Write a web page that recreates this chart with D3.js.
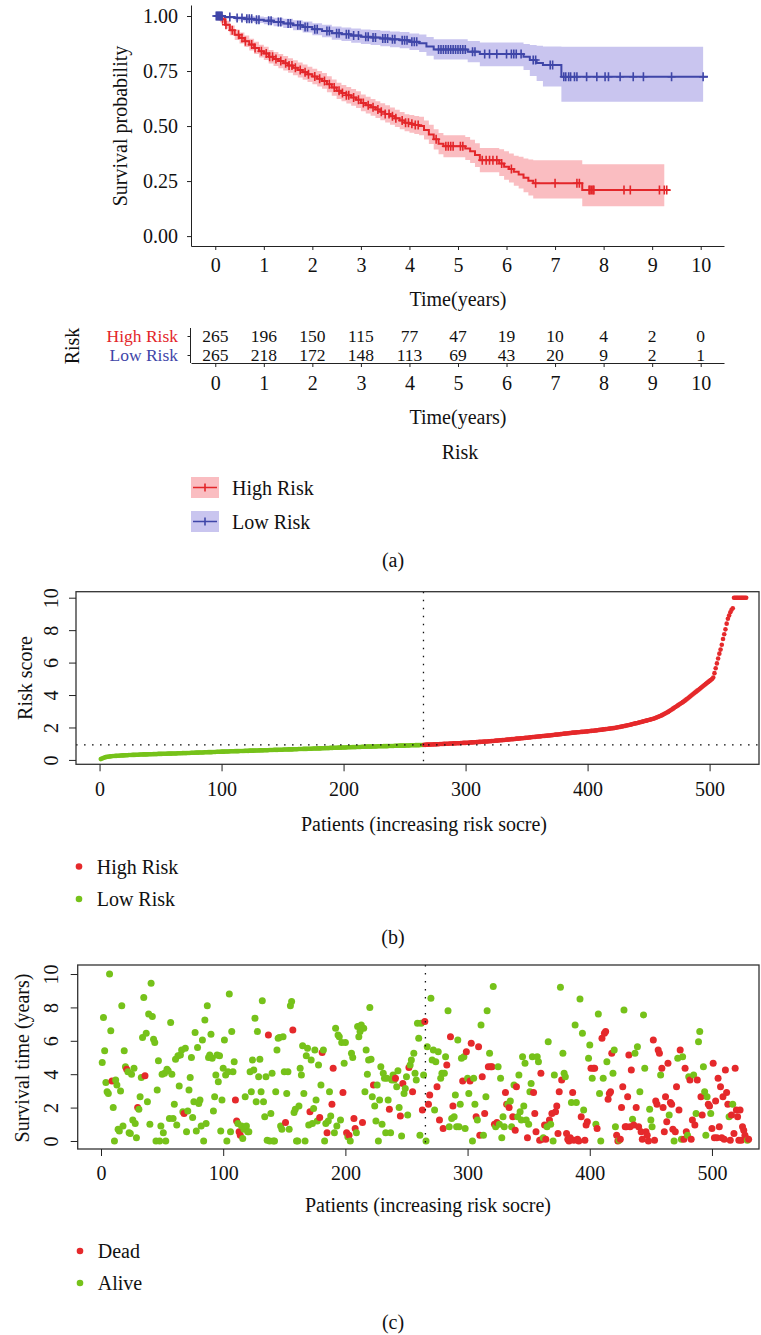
<!DOCTYPE html>
<html>
<head>
<meta charset="utf-8">
<title>Risk model</title>
<script src="https://cdnjs.cloudflare.com/ajax/libs/d3/7.8.5/d3.min.js"></script>
<style>
 body { margin: 0; background: #fff; }
 svg { display: block; font-family: "Liberation Serif", "Times New Roman", serif; }
</style>
</head>
<body>
<script>
// ---------- data ----------
const years = [0, 1, 2, 3, 4, 5, 6, 7, 8, 9, 10];
const groups = ["High Risk", "Low Risk"];
const atRiskHigh = [265, 196, 150, 115, 77, 47, 19, 10, 4, 2, 0];
const atRiskLow = [265, 218, 172, 148, 113, 69, 43, 20, 9, 2, 1];

// Kaplan-Meier steps, high risk group
const highTime = [0,0.05,0.1,0.2,0.3,0.4,0.5,0.6,0.7,0.8,0.9,1.0,1.1,1.2,1.3,1.4,1.5,1.6,1.7,1.8,1.9,2.0,2.1,2.2,2.3,2.4,2.5,2.6,2.7,2.8,2.9,3.0,3.1,3.2,3.3,3.4,3.5,3.6,3.7,3.8,3.9,4.0,4.1,4.2,4.3,4.4,4.5,4.6,4.7,5.15,5.25,5.35,5.45,5.85,5.95,6.05,6.15,6.25,6.35,6.45,6.55,7.56];
const highSurv = [1,.99,.985,.96,.935,.915,.90,.885,.87,.855,.84,.83,.815,.805,.795,.785,.775,.765,.755,.745,.735,.725,.715,.705,.69,.675,.66,.65,.64,.63,.62,.605,.595,.585,.575,.565,.555,.545,.535,.525,.515,.51,.505,.50,.482,.462,.44,.42,.408,.398,.385,.368,.345,.33,.315,.305,.292,.28,.265,.252,.24,.209];
const highLower = [1,.98,.972,.942,.913,.891,.875,.859,.843,.827,.811,.80,.784,.773,.763,.752,.742,.731,.721,.71,.70,.69,.68,.669,.654,.638,.623,.613,.603,.592,.582,.567,.557,.547,.537,.526,.516,.506,.496,.486,.476,.47,.464,.458,.439,.418,.394,.372,.358,.346,.332,.314,.29,.273,.256,.244,.229,.216,.199,.184,.171,.136];
const highUpper = [1,1,.998,.978,.957,.939,.925,.911,.897,.883,.869,.86,.846,.837,.827,.818,.808,.799,.789,.78,.77,.76,.75,.741,.726,.712,.697,.687,.677,.668,.658,.643,.633,.623,.613,.604,.594,.584,.574,.564,.554,.55,.546,.542,.525,.506,.486,.468,.458,.45,.438,.422,.40,.395,.385,.375,.365,.36,.352,.348,.345,.326];
const highEnd = 9.37, highBandEnd = 9.25;
const highCensor = [0.15,0.22,0.35,0.48,0.55,0.62,0.75,0.82,0.95,1.05,1.12,1.18,1.25,1.35,1.45,1.52,1.58,1.65,1.75,1.85,1.92,2.05,2.15,2.25,2.35,2.45,2.55,2.62,2.7,2.75,2.85,2.95,3.05,3.15,3.25,3.35,3.42,3.5,3.58,3.65,3.72,3.85,3.92,3.98,4.05,4.12,4.18,4.55,4.75,4.8,4.85,4.9,5.05,5.1,5.5,5.58,5.65,5.72,5.8,5.9,6.1,6.6,7.0,7.45,7.5,7.7,7.72,7.75,7.78,7.8,8.42,8.55,9.15,9.25,9.3];

// Kaplan-Meier steps, low risk group
const lowTime = [0,0.2,0.4,0.6,0.8,1.0,1.2,1.4,1.6,1.8,2.0,2.2,2.4,2.6,2.8,3.0,3.2,3.4,3.6,3.8,4.0,4.2,4.35,4.5,5.2,5.45,6.35,6.48,6.62,6.75,7.13];
const lowSurv = [1,.996,.991,.987,.983,.979,.973,.966,.958,.95,.94,.932,.922,.917,.911,.906,.902,.898,.894,.89,.883,.876,.862,.848,.838,.827,.815,.80,.787,.777,.724];
const lowLower = [1,.988,.98,.974,.968,.962,.954,.945,.935,.925,.913,.904,.892,.886,.879,.873,.868,.863,.858,.853,.845,.836,.819,.802,.79,.772,.755,.727,.705,.68,.61];
const lowUpper = [1,1,1,1,.998,.996,.992,.987,.981,.975,.967,.96,.952,.948,.943,.939,.936,.933,.93,.927,.921,.916,.905,.894,.886,.88,.873,.868,.865,.862,.86];
const lowEnd = 10.15, lowBandEnd = 10.05;
const lowCensor = [0.02,0.04,0.06,0.08,0.1,0.12,0.14,0.3,0.45,0.55,0.65,0.7,0.75,0.85,0.9,1.1,1.15,1.3,1.35,1.5,1.55,1.7,1.75,1.85,1.9,2.05,2.1,2.3,2.35,2.5,2.55,2.7,2.75,2.85,2.95,3.1,3.15,3.25,3.3,3.45,3.5,3.55,3.65,3.7,3.85,3.9,3.95,4.05,4.1,4.15,4.6,4.65,4.7,4.75,4.8,4.85,4.9,4.95,5.0,5.05,5.1,5.15,5.3,5.35,5.55,5.65,5.8,6.0,6.1,6.15,6.2,6.3,6.55,6.6,6.9,6.95,7.18,7.22,7.28,7.32,7.4,7.45,7.65,7.86,8.03,8.1,8.34,8.61,8.82,9.4,10.05];

// risk score of each patient, sorted (first 265 = low risk)
const nLow = 265;
const riskCutoff = 0.93;
const riskScore = [
0.05,0.09,0.12,0.15,0.17,0.19,0.20,0.21,0.22,0.23,
0.24,0.24,0.25,0.25,0.26,0.26,0.27,0.27,0.28,0.28,
0.29,0.29,0.29,0.30,0.30,0.30,0.31,0.31,0.31,0.32,
0.32,0.32,0.33,0.33,0.33,0.34,0.34,0.34,0.34,0.35,
0.35,0.35,0.35,0.36,0.36,0.36,0.36,0.37,0.37,0.37,
0.37,0.38,0.38,0.38,0.38,0.39,0.39,0.39,0.39,0.40,
0.40,0.40,0.40,0.41,0.41,0.41,0.41,0.42,0.42,0.42,
0.42,0.43,0.43,0.43,0.44,0.44,0.44,0.44,0.45,0.45,
0.45,0.46,0.46,0.46,0.46,0.47,0.47,0.47,0.48,0.48,
0.48,0.48,0.49,0.49,0.49,0.50,0.50,0.50,0.50,0.51,
0.51,0.51,0.52,0.52,0.52,0.52,0.53,0.53,0.53,0.53,
0.54,0.54,0.54,0.54,0.55,0.55,0.55,0.55,0.56,0.56,
0.56,0.56,0.57,0.57,0.57,0.57,0.58,0.58,0.58,0.58,
0.59,0.59,0.59,0.59,0.60,0.60,0.60,0.60,0.61,0.61,
0.61,0.61,0.62,0.62,0.62,0.62,0.63,0.63,0.63,0.63,
0.64,0.64,0.64,0.64,0.65,0.65,0.65,0.65,0.66,0.66,
0.66,0.66,0.67,0.67,0.67,0.67,0.68,0.68,0.68,0.68,
0.69,0.69,0.69,0.69,0.70,0.70,0.70,0.70,0.71,0.71,
0.71,0.72,0.72,0.72,0.73,0.73,0.73,0.73,0.74,0.74,
0.74,0.75,0.75,0.75,0.75,0.76,0.76,0.76,0.77,0.77,
0.77,0.77,0.78,0.78,0.78,0.78,0.79,0.79,0.79,0.79,
0.80,0.80,0.80,0.80,0.81,0.81,0.81,0.81,0.82,0.82,
0.82,0.82,0.82,0.83,0.83,0.83,0.83,0.84,0.84,0.84,
0.84,0.84,0.85,0.85,0.85,0.85,0.86,0.86,0.86,0.86,
0.86,0.87,0.87,0.87,0.87,0.88,0.88,0.88,0.88,0.88,
0.89,0.89,0.89,0.89,0.90,0.90,0.90,0.90,0.91,0.91,
0.91,0.91,0.92,0.92,0.92,
0.93,0.93,0.94,0.94,0.94,0.95,0.95,0.95,0.96,0.96,
0.96,0.97,0.97,0.98,0.98,0.98,0.99,0.99,1.00,1.00,
1.00,1.01,1.01,1.01,1.02,1.02,1.02,1.03,1.03,1.03,
1.04,1.04,1.05,1.05,1.05,1.06,1.06,1.07,1.07,1.08,
1.08,1.09,1.09,1.10,1.10,1.11,1.11,1.12,1.12,1.13,
1.13,1.14,1.14,1.15,1.15,1.16,1.17,1.17,1.18,1.19,
1.19,1.20,1.21,1.21,1.22,1.23,1.23,1.24,1.25,1.26,
1.26,1.27,1.28,1.28,1.29,1.30,1.31,1.31,1.32,1.33,
1.34,1.34,1.35,1.36,1.37,1.37,1.38,1.39,1.40,1.41,
1.41,1.42,1.43,1.44,1.44,1.45,1.46,1.47,1.47,1.48,
1.49,1.50,1.51,1.51,1.52,1.53,1.54,1.55,1.56,1.56,
1.57,1.58,1.59,1.60,1.61,1.62,1.63,1.63,1.64,1.65,
1.66,1.67,1.68,1.68,1.69,1.70,1.71,1.71,1.72,1.73,
1.73,1.74,1.75,1.75,1.76,1.77,1.78,1.79,1.80,1.80,
1.81,1.82,1.83,1.84,1.85,1.86,1.87,1.88,1.89,1.90,
1.91,1.92,1.93,1.94,1.95,1.96,1.97,1.98,2.00,2.01,
2.03,2.04,2.06,2.07,2.09,2.10,2.12,2.14,2.15,2.17,
2.19,2.21,2.23,2.25,2.26,2.28,2.30,2.32,2.34,2.36,
2.38,2.40,2.42,2.44,2.46,2.48,2.50,2.52,2.54,2.57,
2.60,2.63,2.66,2.69,2.72,2.76,2.80,2.84,2.88,2.92,
2.96,3.01,3.06,3.11,3.16,3.21,3.26,3.31,3.36,3.41,
3.46,3.51,3.56,3.61,3.67,3.73,3.79,3.85,3.91,3.97,
4.03,4.09,4.15,4.21,4.27,4.33,4.39,4.45,4.51,4.57,
4.63,4.69,4.75,4.81,4.87,4.93,4.99,5.08,5.35,5.65,
5.95,6.25,6.55,6.80,7.10,7.45,7.75,8.05,8.40,8.70,
8.90,9.10,9.25,9.35,10,10,10,10,10,10,
10,10,10,10,10];

// survival time (years) and status (1 = dead) in the same patient order
const survTime = [
4.7,7.4,5.4,3.5,2.95,2.85,10.0,6.6,3.6,2.0,
0,3.65,3.35,0.7,0.6,3.0,8.1,0.9,5.4,4.45,
4.3,4.15,0.5,0.45,4.0,1.25,4.35,1.05,0.2,2.0,
1.9,2.65,3.8,6.2,8.6,3.9,6.45,2.35,7.6,1.0,
9.45,7.45,6.1,5.9,0,3.05,4.8,0,0.9,4.0,
0.5,4.05,0,4.3,4.2,1.35,7.1,4.0,1.35,2.2,
4.9,0.95,5.1,3.3,5.15,5.45,1.75,1.65,5.55,0.55,
1.8,3.05,3.8,5.0,1.4,2.35,6.5,0.6,5.6,2.25,
2.45,0.9,6.05,0,7.25,1.05,8.1,5.0,5.15,6.4,
4.95,1.8,2.65,3.95,5.15,3.55,5.1,0.6,2.45,4.35,
6.05,3.95,0,4.15,8.8,0.55,6.55,4.15,4.75,2.45,
1.2,1.05,0.55,0.35,0.9,0.15,0.7,2.65,0.9,0.55,
0.55,4.15,2.95,4.85,4.25,7.35,2.35,6.55,3.85,4.9,
2.95,8.4,2.35,1.45,3.85,0.05,6.35,0,1.65,4.05,
0,0,2.95,5.45,6.15,6.2,0.9,0.7,6.25,4.15,
1.1,2.85,4.15,0.7,8.1,8.35,6.65,1.7,1.9,0,
0,2.1,4.35,3.95,5.7,2.85,0,5.1,5.55,0.95,
1.75,4.85,1.05,1.95,5.45,2.45,1.2,4.55,1.4,3.35,
5.3,5.45,0,1.05,0.5,1.2,2.95,1.5,2.2,4.35,
0.5,6.75,0.9,6.35,6.25,1.25,5.9,2.9,4.65,5.9,
0.5,0.25,0.35,0,5.25,5.0,1.35,0.75,0.5,6.85,
6.25,6.55,6.95,1.1,6.75,2.95,5.45,4.0,4.85,8.0,
4.9,2.65,3.35,2.1,1.2,3.35,0,2.45,4.45,1.0,
4.05,3.75,0.5,3.75,2.45,1.9,0.5,3.65,3.95,3.65,
3.75,3.25,4.2,2.0,1.5,0.3,3.45,2.85,3.15,3.85,
1.55,4.4,4.55,4.85,2.95,5.25,4.05,3.65,7.05,6.15,
0.35,7.05,1.85,3.95,7.15,
0,5.65,2.2,2.75,8.55,
4.85,5.45,1.85,4.75,3.25,5.35,1.25,3.75,4.05,0.75,
4.05,5.05,4.55,7.8,0.85,6.25,1.35,2.1,1.45,2.75,
0.85,6.05,0.85,2.2,4.95,3.6,5.05,0.75,5.35,3.75,
2.85,3.6,5.85,0,3.75,2.2,1.45,1.25,5.65,0.35,
6.95,3.85,0.35,1.65,2.65,7.8,4.45,5.25,4.45,4.45,
9.25,1.0,0.85,1.1,4.45,1.0,3.75,0.2,1.45,0.85,
2.9,2.2,2.2,2.0,2.4,0.85,1.45,3.35,0.65,3.25,
1.45,3.95,1.75,1.25,5.05,2.1,4.65,1.25,0.2,1.0,
2.95,3.45,5.05,2.9,1.65,0.55,5.05,4.75,0.05,4.05,
0.1,0.2,0.95,0.1,0.85,5.95,1.25,1.0,1.65,0,
3.95,1.75,2.1,0.45,2.95,9.2,3.65,5.25,4.05,3.85,
0.45,0.1,0,0.2,2.3,2.9,0.05,6.95,2.3,0.1,
0,8.5,1.45,6.45,1.85,0.05,0.95,1.15,4.95,5.75,
4.35,3.75,4.35,4.35,1.0,0.75,7.6,2.85,0,6.15,
3.75,6.45,6.55,4.75,2.5,2.85,2.95,5.25,4.05,5.45,
0.85,0.35,0,0.05,0.1,2.0,3.25,7.85,0.85,0.85,
2.65,5.15,0.85,4.25,1.3,0.95,5.25,2.0,5.65,0.85,
2.95,0.55,0.1,7.55,4.35,0.55,0.35,0,1.9,1.25,
0.85,6.05,0.05,2.4,2.2,5.45,5.25,3.95,4.35,2.0,
0.55,2.65,1.15,4.65,1.55,2.3,2.2,0.7,0,0.55,
3.25,4.95,1.85,5.45,0.1,5.05,0.1,4.35,0.55,0.35,
3.85,3.65,0.1,1.25,3.95,0.95,1.65,3.65,5.95,6.55,
2.65,1.55,4.45,2.95,0.35,2.65,2.2,2.1,1.65,0.75,
4.65,0.2,2.4,0.2,3.75,0.85,3.25,0.2,2.65,0.1,
4.25,2.9,2.2,1.45,0.05,1.55,2.2,0.45,4.35,1.85,
1.45,0.05,1.85,0.05,0.85,0.65,0.35,0.15,0.05,0.1];
const survStatus = [
0,0,0,0,0,0,0,0,1,0,
0,0,0,0,0,0,0,0,0,0,
1,0,0,0,0,0,0,0,0,1,
0,0,0,0,0,1,0,0,0,0,
0,0,0,0,0,0,0,0,0,0,
0,0,0,0,0,0,0,0,0,0,
0,0,0,0,0,0,0,1,0,0,
0,0,0,0,0,0,0,0,0,0,
0,0,0,0,0,0,0,0,0,0,
0,0,0,0,0,0,0,0,0,0,
0,0,0,0,0,0,0,0,0,1,
1,0,1,1,0,0,0,0,0,0,
0,0,0,0,0,0,0,0,0,0,
0,0,0,0,0,0,1,0,0,0,
0,0,0,0,0,0,0,0,0,0,
1,0,0,0,0,0,1,0,0,0,
0,0,0,0,0,0,0,0,0,0,
1,0,0,0,0,0,0,0,1,0,
1,0,0,0,1,0,0,0,1,1,
0,0,0,0,0,0,0,1,0,0,
1,0,1,0,0,0,1,1,0,0,
0,0,0,1,0,0,0,0,0,0,
0,0,1,0,0,0,0,0,0,0,
0,0,0,0,0,1,0,0,0,0,
1,0,0,0,1,0,1,0,0,0,
0,1,0,0,1,0,0,0,0,0,
0,0,1,0,1,
0,0,1,1,0,
0,0,0,0,1,0,1,0,0,1,
0,0,1,0,0,1,0,1,0,0,
0,0,0,0,0,1,0,0,1,0,
0,1,1,0,0,0,1,0,1,1,
0,1,0,1,0,0,1,0,1,1,
0,1,0,1,0,0,0,0,0,0,
1,1,0,1,0,0,1,0,1,1,
0,0,0,0,0,0,0,0,1,0,
0,0,0,1,1,1,0,0,1,1,
1,0,1,1,0,0,1,0,1,0,
0,1,1,1,1,0,1,0,0,0,
1,1,1,1,0,1,1,0,0,1,
1,0,1,0,0,1,1,1,0,0,
1,0,1,1,0,1,0,0,0,1,
0,1,1,0,1,1,1,1,0,0,
0,1,1,0,1,1,1,0,1,1,
1,1,1,1,0,1,0,1,0,1,
0,1,1,0,0,1,1,1,0,0,
0,1,1,1,1,1,1,0,1,1,
1,1,1,1,0,1,1,1,0,1,
1,0,1,1,0,0,1,1,1,0,
0,1,1,1,0,1,0,1,0,0,
1,1,0,0,0,0,1,1,0,1,
1,1,1,1,1,1,1,1,1,1,
1,1,1,0,1,1,0,1,1,1,
1,1,1,1,1,1,1,1,0,1];

const xTicksPatients = [0, 100, 200, 300, 400, 500];
const riskTicks = [0, 2, 4, 6, 8, 10];
const survTicks = [0, 2, 4, 6, 8, 10];
const probTicks = [0, 0.25, 0.5, 0.75, 1];

// ---------- setup ----------
const W = 761, H = 1335;
const FS = 20;
const SERIF = '"Liberation Serif", "Times New Roman", serif';
const red = "#E3262A", blue = "#3F46A8", pink = "#FABDC1", lav = "#C9C5EF";
const ptRed = "#E5292B", ptGreen = "#76C21A";

const svg = d3.select("body").append("svg")
  .attr("width", W).attr("height", H);

// d3 axes put sans-serif on their group: swap it for the serif
function styleAxis(g) {
  g.attr("font-family", SERIF).attr("font-size", FS);
  g.selectAll("text").attr("font-family", SERIF).attr("font-size", FS).attr("fill", "#111");
  g.selectAll("line,path").attr("stroke", "#222");
}
function label(x, y, txt, opt = {}) {
  const t = svg.append("text")
    .attr("x", x).attr("y", y)
    .attr("font-size", opt.size || FS)
    .attr("fill", opt.fill || "#111")
    .attr("text-anchor", opt.anchor || "middle")
    .attr("dy", opt.dy || "0.35em")
    .text(txt);
  if (opt.rotate) t.attr("x", 0).attr("y", 0)
    .attr("transform", `translate(${x},${y}) rotate(-90)`);
  return t;
}

// ---------- (a) Kaplan-Meier ----------
const xA = d3.scaleLinear().domain([-0.5, 10.48]).range([191, 724]);
const yA = d3.scaleLinear().domain([-0.045, 1.05]).range([246, 5]);

function kmGroup(time, surv, lo, hi, end, bandEnd, censor, col, fill) {
  const steps = time.map((t, i) => ({ t, s: surv[i], lo: lo[i], hi: hi[i] }));
  const last = steps[steps.length - 1];
  const band = steps.concat([{ t: bandEnd, lo: last.lo, hi: last.hi }]);
  const line = steps.concat([{ t: end, s: last.s }]);
  return { band, line, censor, col, fill, time, surv };
}
const km = [
  kmGroup(highTime, highSurv, highLower, highUpper, highEnd, highBandEnd, highCensor, red, pink),
  kmGroup(lowTime, lowSurv, lowLower, lowUpper, lowEnd, lowBandEnd, lowCensor, blue, lav)
];

const area = d3.area().curve(d3.curveStepAfter)
  .x(d => xA(d.t)).y0(d => yA(d.lo)).y1(d => yA(d.hi));
const stepLine = d3.line().curve(d3.curveStepAfter)
  .x(d => xA(d.t)).y(d => yA(d.s));

const gA = svg.append("g");
gA.selectAll("path.band").data(km).join("path")
  .attr("class", "band").attr("d", d => area(d.band)).attr("fill", d => d.fill);
gA.selectAll("path.km").data(km).join("path")
  .attr("class", "km").attr("d", d => stepLine(d.line))
  .attr("fill", "none").attr("stroke", d => d.col).attr("stroke-width", 2);
km.forEach(g => {
  const marks = g.censor.map(t => {
    const i = d3.bisectRight(g.time, t) - 1;
    return { x: xA(t), y: yA(g.surv[i]) };
  });
  gA.append("g").selectAll("path").data(marks).join("path")
    .attr("d", d => `M${d.x - 4},${d.y}H${d.x + 4}M${d.x},${d.y - 4.5}V${d.y + 4.5}`)
    .attr("stroke", g.col).attr("stroke-width", 1.6);
});

svg.append("g").attr("transform", "translate(0,246)")
  .call(d3.axisBottom(xA).tickValues(years).tickSize(4).tickSizeOuter(0).tickPadding(8))
  .call(styleAxis);
svg.append("g").attr("transform", "translate(191,0)")
  .call(d3.axisLeft(yA).tickValues(probTicks).tickFormat(d3.format(".2f"))
    .tickSize(4).tickSizeOuter(0).tickPadding(9))
  .call(styleAxis);
label(120, 126, "Survival probability", { rotate: true });
label(458, 299, "Time(years)", { dy: 0 });

// ---------- risk table ----------
const TFS = 17.5;
const yT = d3.scalePoint().domain(groups).range([336, 355]);
const tableRows = [
  { g: groups[0], n: atRiskHigh, col: red },
  { g: groups[1], n: atRiskLow, col: blue }
];
const gT = svg.append("g");
tableRows.forEach(r => {
  gT.append("g").selectAll("text").data(r.n).join("text")
    .attr("x", (d, i) => xA(years[i])).attr("y", yT(r.g))
    .attr("dy", "0.32em").attr("text-anchor", "middle")
    .attr("font-size", TFS).attr("fill", "#111").text(d => d);
  label(178, yT(r.g), r.g, { anchor: "end", fill: r.col, dy: "0.32em", size: TFS });
});
gT.append("line").attr("x1", 190.5).attr("x2", 190.5).attr("y1", 328).attr("y2", 363)
  .attr("stroke", "#222");
svg.append("g").attr("transform", "translate(190.5,0)")
  .call(d3.axisLeft(yT).tickSize(3).tickSizeOuter(0).tickFormat(""))
  .call(g => g.select(".domain").remove())
  .call(styleAxis);
svg.append("g").attr("transform", "translate(0,363)")
  .call(d3.axisBottom(xA).tickValues(years).tickSize(4).tickSizeOuter(0).tickPadding(9))
  .call(styleAxis);
label(72, 346, "Risk", { rotate: true });
label(458, 417, "Time(years)", { dy: 0 });
label(460, 452, "Risk", { dy: 0 });

// legend (a)
const legA = svg.append("g");
km.forEach((g, i) => {
  const y = 477 + i * 34;
  legA.append("rect").attr("x", 191).attr("y", y).attr("width", 28).attr("height", 21)
    .attr("fill", g.fill);
  legA.append("path")
    .attr("d", `M193,${y + 10.5}H217M205,${y + 6.5}V${y + 14.5}`)
    .attr("stroke", g.col).attr("stroke-width", 1.6);
  label(232, y + 10.5, groups[i], { anchor: "start" });
});
label(393, 560, "(a)");

// ---------- (b) risk score ----------
const xB = d3.scaleLinear().domain([-19.3, 540.5]).range([76, 759]);
const yB = d3.scaleLinear().domain([-0.27, 10.37]).range([764.3, 591.7]);

svg.append("g").selectAll("circle").data(riskScore).join("circle")
  .attr("cx", (d, i) => xB(i + 1)).attr("cy", d => yB(d)).attr("r", 2.3)
  .attr("fill", (d, i) => i < nLow ? ptGreen : ptRed);

const dots = "1.6,6.4";
svg.append("line").attr("x1", 76).attr("x2", 759)
  .attr("y1", yB(riskCutoff)).attr("y2", yB(riskCutoff))
  .attr("stroke", "#111").attr("stroke-width", 1.3).attr("stroke-dasharray", dots);
svg.append("line").attr("x1", xB(nLow + 0.5)).attr("x2", xB(nLow + 0.5))
  .attr("y1", 591.7).attr("y2", 764.3)
  .attr("stroke", "#111").attr("stroke-width", 1.3).attr("stroke-dasharray", dots);

svg.append("rect").attr("x", 76).attr("y", 591.7).attr("width", 683).attr("height", 172.6)
  .attr("fill", "none").attr("stroke", "#333").attr("stroke-width", 1.3);

svg.append("g").attr("transform", "translate(0,764.3)")
  .call(d3.axisBottom(xB).tickValues(xTicksPatients).tickSize(7).tickPadding(11))
  .call(g => g.select(".domain").remove())
  .call(styleAxis);
svg.append("g").attr("transform", "translate(76,0)")
  .call(d3.axisLeft(yB).tickValues(riskTicks).tickSize(7))
  .call(g => g.select(".domain").remove())
  .call(styleAxis)
  .call(g => g.selectAll("text").attr("x", 0).attr("dy", "0.35em")
    .attr("text-anchor", "middle").attr("transform", "translate(-25.5,0) rotate(-90)"));
label(25, 678, "Risk score", { rotate: true });
label(424, 824, "Patients (increasing risk socre)", { dy: 0 });

// legend (b)
[["High Risk", ptRed], ["Low Risk", ptGreen]].forEach((d, i) => {
  const y = 866.5 + i * 32.5;
  svg.append("circle").attr("cx", 79).attr("cy", y).attr("r", 3.3).attr("fill", d[1]);
  label(96.7, y, d[0], { anchor: "start" });
});
label(393, 937, "(b)");

// ---------- (c) survival status ----------
const xC = d3.scaleLinear().domain([-19.07, 538.5]).range([77.7, 759]);
const yC = d3.scaleLinear().domain([-0.48, 10.54]).range([1149, 965]);

svg.append("g").selectAll("circle").data(survTime).join("circle")
  .attr("cx", (d, i) => xC(i + 1)).attr("cy", d => yC(d)).attr("r", 3.5)
  .attr("fill", (d, i) => survStatus[i] === 1 ? ptRed : ptGreen);

svg.append("line").attr("x1", xC(nLow + 0.5)).attr("x2", xC(nLow + 0.5))
  .attr("y1", 965).attr("y2", 1149)
  .attr("stroke", "#111").attr("stroke-width", 1.3).attr("stroke-dasharray", dots);

svg.append("rect").attr("x", 77.7).attr("y", 965).attr("width", 681.3).attr("height", 184)
  .attr("fill", "none").attr("stroke", "#333").attr("stroke-width", 1.3);

svg.append("g").attr("transform", "translate(0,1149)")
  .call(d3.axisBottom(xC).tickValues(xTicksPatients).tickSize(7).tickPadding(10))
  .call(g => g.select(".domain").remove())
  .call(styleAxis);
svg.append("g").attr("transform", "translate(77.7,0)")
  .call(d3.axisLeft(yC).tickValues(survTicks).tickSize(7))
  .call(g => g.select(".domain").remove())
  .call(styleAxis)
  .call(g => g.selectAll("text").attr("x", 0).attr("dy", "0.35em")
    .attr("text-anchor", "middle").attr("transform", "translate(-27,0) rotate(-90)"));
label(22, 1058, "Survival time (years)", { rotate: true });
label(428, 1205, "Patients (increasing risk socre)", { dy: 0 });

// legend (c)
[["Dead", ptRed], ["Alive", ptGreen]].forEach((d, i) => {
  const y = 1251 + i * 32;
  svg.append("circle").attr("cx", 80).attr("cy", y).attr("r", 3.3).attr("fill", d[1]);
  label(97.7, y, d[0], { anchor: "start" });
});
label(393, 1322, "(c)");
</script>
</body>
</html>
